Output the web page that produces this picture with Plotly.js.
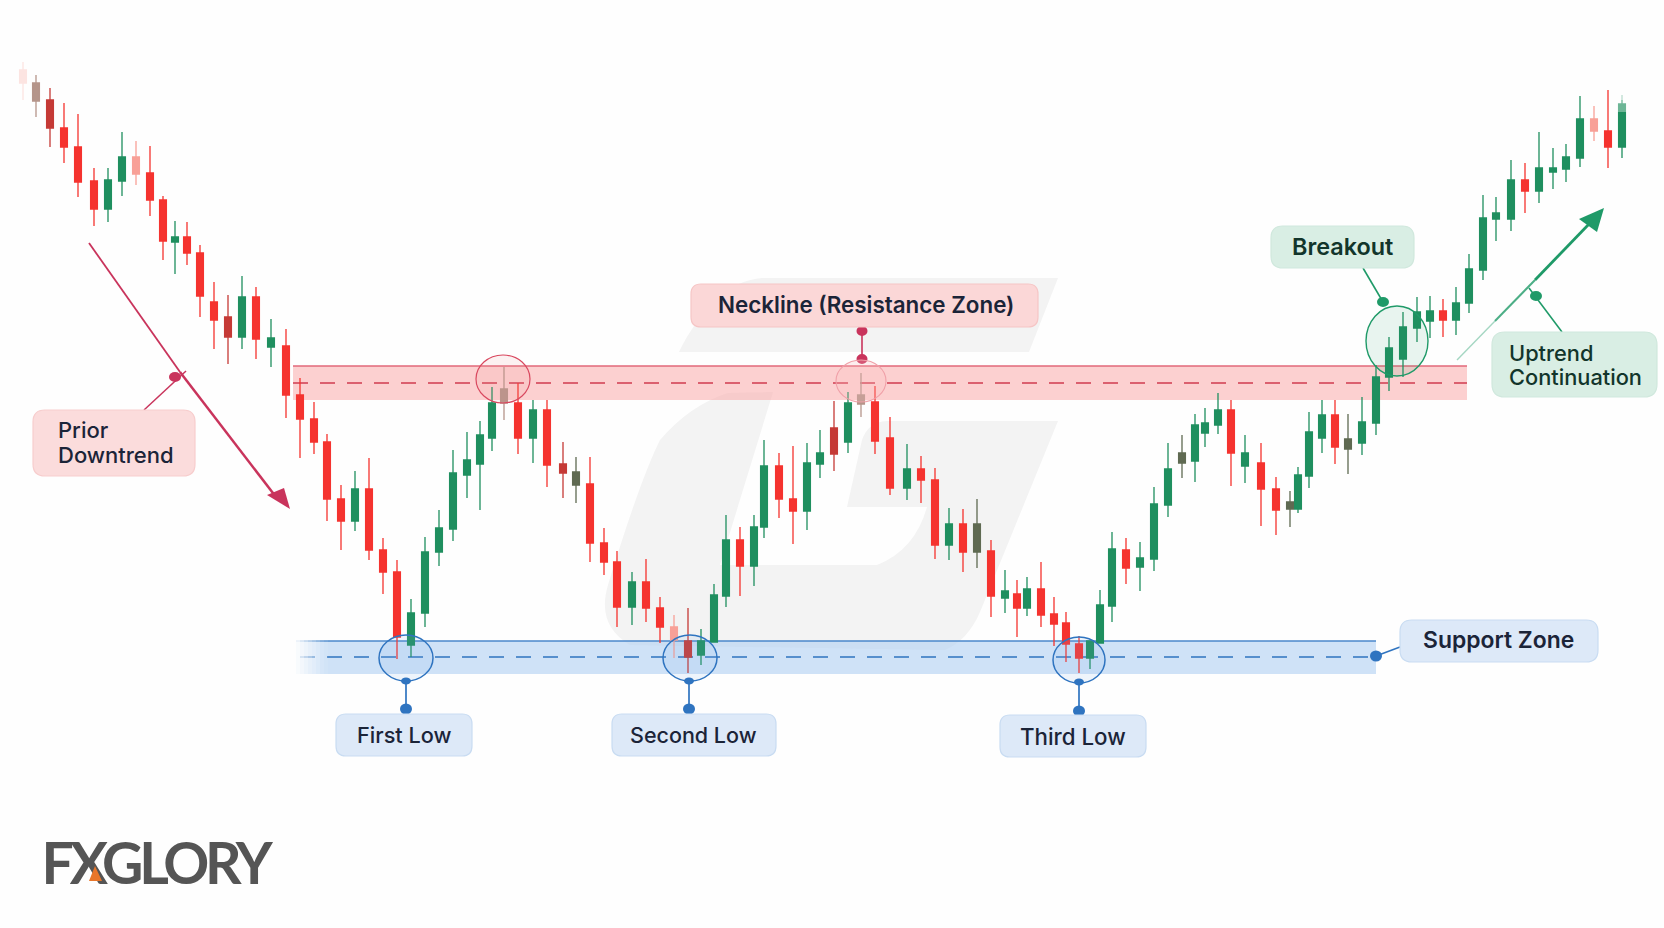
<!DOCTYPE html>
<html><head><meta charset="utf-8">
<script src="https://cdn.plot.ly/plotly-3.0.1.min.js"></script>
<style>html,body{margin:0;padding:0;background:#fefefe;overflow:hidden}#c{width:1664px;height:928px}</style>
</head><body><div id="c"></div>
<script>
const sessionX=[23,36,50,64,78,94,108,122,136,150,163,175,187,200,214,228,242,256,271,286,300,314,327,341,355,369,383,397,411,425,439,453,467,480,492,504,518,533,547,563,576,590,604,617,632,646,660,674,688,701,714,726,740,754,764,779,793,807,820,834,848,861,875,890,907,921,935,949,963,977,991,1005,1017,1027,1041,1054,1066,1079,1090,1100,1112,1126,1140,1154,1168,1182,1195,1205,1218,1231,1245,1261,1276,1290,1298,1309,1322,1335,1348,1362,1376,1389,1403,1417,1430,1443,1456,1469,1483,1496,1511,1525,1539,1553,1566,1580,1594,1608,1622];
const open=[858,845,828,800,781,747,719,747,771,755,728,686,691,675,626,611,591,631,581,582,533,509,486,429,407,439,378,356,283,315,376,399,453,464,490,525,525,490,518,464,443,444,385,366,321,346,320,301,287,273,286,332,388,362,401,462,429,417,464,500,486,524,526,490,440,459,448,383,404,376,377,330,334,320,339,314,305,284,270,285,322,378,361,369,423,475,467,495,503,518,462,465,439,426,419,452,490,513,489,485,505,551,569,600,607,617,608,625,658,709,709,748,737,756,759,770,809,797,781];
const high=[866,853,840,825,814,760,760,796,787,782,732,707,706,683,646,633,652,641,609,599,550,526,494,443,457,470,390,368,329,391,418,478,496,507,541,561,545,528,528,486,471,471,400,377,356,369,331,313,320,299,344,413,401,413,488,475,482,485,498,527,536,555,542,511,484,472,460,420,419,429,388,358,348,351,366,331,316,292,287,338,396,390,386,441,485,493,514,520,535,528,493,485,451,437,461,516,528,528,514,531,563,591,616,631,632,629,641,674,733,731,768,765,796,780,784,832,822,838,833];
const low=[828,811,781,765,731,702,706,732,743,712,668,654,663,611,579,564,579,569,561,510,470,474,407,378,397,368,334,269,271,301,362,387,430,418,477,508,474,465,441,430,425,366,353,301,303,306,285,270,255,263,286,321,332,342,390,410,384,398,450,457,475,511,474,433,428,425,369,368,356,360,311,315,291,312,301,282,266,255,259,285,306,344,337,357,411,450,446,481,494,442,445,402,393,401,415,440,475,464,454,473,493,537,551,586,590,591,593,615,648,687,697,715,725,739,746,761,787,760,770];
const close=[845,827,800,781,746,719,748,771,754,728,687,691,675,632,608,591,631,589,590,533,509,486,429,407,439,378,356,291,315,376,400,455,468,493,525,539,490,518,463,455,456,385,366,321,346,320,301,288,271,287,333,388,362,401,462,429,417,465,475,474,525,533,487,440,459,448,383,404,376,404,332,337,320,339,313,304,284,270,287,323,379,360,370,424,459,465,503,505,518,475,475,439,418,419,453,496,513,481,479,506,551,580,601,616,617,608,625,659,710,715,748,737,760,760,771,809,797,781,824];
const tone=['p','t','d','r','r','r','g','g','p','r','r','g','r','r','r','d','g','r','g','r','r','r','r','r','g','r','r','r','g','g','g','g','g','g','g','t','r','g','r','d','b','r','r','r','g','r','r','p','d','g','g','g','r','g','g','r','r','g','g','d','g','t','r','r','g','r','r','g','r','b','r','g','r','g','r','r','r','r','g','g','g','r','g','g','g','b','g','g','g','r','g','r','r','b','g','g','g','r','b','g','g','g','g','g','g','r','g','g','g','g','g','r','g','g','g','g','p','r','g'];
const toneColours={r:'#f5332f',g:'#1f8f5f',p:'#f8a097',t:'#b5958a',d:'#c53a36',b:'#5f6a52'};

const W=1664,H=928,Y=v=>H-v;
const traces=Object.keys(toneColours).map(k=>{
  const idx=tone.map((t,i)=>t===k?i:-1).filter(i=>i>=0), c=toneColours[k];
  const side={line:{color:c,width:1.3},fillcolor:c};
  return {type:'candlestick',name:k,x:idx.map(i=>sessionX[i]),open:idx.map(i=>open[i]),high:idx.map(i=>high[i]),low:idx.map(i=>low[i]),close:idx.map(i=>close[i]),
    increasing:side,decreasing:side,whiskerwidth:0,showlegend:false,hoverinfo:'skip'};
});

const RED='#c9345c',BLUE='#2f74c0',GREEN='#1f9a68',INK='#1b2438',DGREEN='#12352b';
const rr=(x0,y0,x1,y1,r,fill,line)=>({type:'path',layer:'above',fillcolor:fill,line:{color:line,width:1.2},
  path:`M${x0+r},${Y(y0)}L${x1-r},${Y(y0)}Q${x1},${Y(y0)} ${x1},${Y(y0+r)}L${x1},${Y(y1-r)}Q${x1},${Y(y1)} ${x1-r},${Y(y1)}L${x0+r},${Y(y1)}Q${x0},${Y(y1)} ${x0},${Y(y1-r)}L${x0},${Y(y0+r)}Q${x0},${Y(y0)} ${x0+r},${Y(y0)}Z`});
const ln=(x0,y0,x1,y1,c,w,extra)=>Object.assign({type:'line',layer:'above',x0,x1,y0:Y(y0),y1:Y(y1),line:{color:c,width:w}},extra||{});
const ell=(cx,cy,rx,ry,fill,c,w,layer)=>({type:'circle',layer:layer||'above',x0:cx-rx,x1:cx+rx,y0:Y(cy+ry),y1:Y(cy-ry),fillcolor:fill,line:{color:c,width:w}});
const rect=(x0,y0,x1,y1,fill,layer)=>({type:'rect',layer:layer||'below',x0,x1,y0:Y(y1),y1:Y(y0),fillcolor:fill,line:{width:0}});
const poly=(pts,fill,layer)=>({type:'path',layer:layer||'above',fillcolor:fill,line:{width:0},path:pts});
const p=(x,y)=>`${x},${Y(y)}`;
const fadeSteps=[0.88,0.76,0.64,0.52,0.4,0.28,0.16,0.08].map((o,i)=>rect(296+i*4,640,300+i*4,675,`rgba(254,254,254,${o})`));

const shapes=[
  // watermark
  poly(`M${p(679,352)}Q${p(695,318)} ${p(722,296)}Q${p(738,280)} ${p(762,278)}L${p(1058,278)}L${p(1029,352)}Z`,'#f3f3f3','below'),
  poly(`M${p(773,392)}L${p(728,393)}Q${p(690,405)} ${p(660,440)}Q${p(640,480)} ${p(608,585)}Q${p(596,625)} ${p(630,645)}L${p(945,650)}Q${p(968,640)} ${p(980,612)}L${p(1058,421)}L${p(887,421)}Q${p(868,422)} ${p(862,440)}L${p(847,507)}L${p(927,507)}Q${p(915,550)} ${p(877,565)}L${p(720,565)}Z`,'#f3f3f3','below'),
  // zones
  rect(293,366,1467,400,'rgba(250,170,170,0.55)'),
  ln(293,366,1467,366,'#e2687a',1.4,{layer:'below'}),
  ln(293,383,1467,383,'#cf3b4f',1.3,{layer:'below',line:{color:'#cf3b4f',width:1.3,dash:'15px,12px'}}),
  rect(296,641,1376,674,'rgba(178,208,242,0.62)'),
  ln(296,641,1376,641,'#4a87cb',1.4,{layer:'below'}),
  ln(300,657,1376,657,BLUE,1.3,{layer:'below',line:{color:BLUE,width:1.3,dash:'15px,12px'}}),
  ...fadeSteps,
  // downtrend arrow
  ln(89,243,180,372,RED,1.8),ln(180,372,276,497,RED,2.5),
  poly(`M${p(290,509)}L${p(284,488)}L${p(267,495)}Z`,RED),
  ln(144,410,186,371,RED,1.5),ell(175,377,6,5,RED,RED,0),
  rr(33,410,195,476,12,'#fbdcdc','#f7cdcd'),
  // neckline
  ln(862,333,862,359,RED,1.6),ell(862,331,5.5,5,RED,RED,0),ell(862,359,5.5,5,RED,RED,0),
  rr(691,284,1038,327,10,'#fbd7d7','#f6c6c6'),
  ell(503,379,27,24,'rgba(240,150,150,0.12)','#d9485f',1.2),
  ell(861,381,25,21,'rgba(250,190,190,0.25)','#f0a0a8',1.1),
  // lows
  ell(406,658,27,23,'rgba(120,170,230,0.12)',BLUE,1.5),
  ell(690,658,27,23,'rgba(120,170,230,0.12)',BLUE,1.5),
  ell(1079,660,26,23,'rgba(120,170,230,0.12)',BLUE,1.5),
  ln(406,681,406,709,BLUE,1.7),ell(406,681,5,3.5,BLUE,BLUE,0),ell(406,709,6,5.5,BLUE,BLUE,0),
  ln(689,681,689,709,BLUE,1.7),ell(689,681,5,3.5,BLUE,BLUE,0),ell(689,709,6,5.5,BLUE,BLUE,0),
  ln(1079,682,1079,711,BLUE,1.7),ell(1079,682,5,3.5,BLUE,BLUE,0),ell(1079,711,6,5.5,BLUE,BLUE,0),
  rr(336,714,472,756,10,'#dde9f8','#c9dcf2'),
  rr(612,714,776,756,10,'#dde9f8','#c9dcf2'),
  rr(1000,715,1146,757,10,'#dde9f8','#c9dcf2'),
  // support
  ln(1376,656,1400,647,BLUE,1.5),ell(1376,656,6,5.5,BLUE,BLUE,0),
  rr(1400,620,1598,662,12,'#dde9f8','#c9dcf2'),
  // breakout
  ell(1397,341,31,35,'rgba(40,160,110,0.10)',GREEN,1.4),
  ln(1363,268,1383,302,GREEN,1.6),ell(1383,302,6,5,GREEN,GREEN,0),
  rr(1271,226,1414,268,12,'#d9eee4','#d0e8dd'),
  // uptrend
  ln(1457,360,1495,321,'rgba(31,154,104,0.4)',1.4),ln(1495,321,1535,280,'rgba(31,154,104,0.8)',2),ln(1535,280,1590,223,GREEN,2.8),
  poly(`M${p(1604,208)}L${p(1579,219)}L${p(1597,232)}Z`,GREEN),
  ln(1562,332,1529,288,GREEN,1.6),ell(1536,296,6,5,GREEN,GREEN,0),
  rr(1492,332,1657,397,13,'#d9eee4','#d0e8dd'),
  // logo: wordmark drawn as a shape label so the accent can sit on top of it
  Object.assign(rect(40,836,270,886,'rgba(0,0,0,0)','above'),{label:{text:'FXGLORY',textposition:'middle center',font:{family:'Lato, sans-serif',size:57,color:'#555555',weight:700}}}),
  poly(`M${p(95,866)}L${p(102,881)}L${p(89,881)}Z`,'#e8762a'),
  // page fades
  rect(15,60,31,108,'rgba(254,254,254,0.72)','above'),
  rect(1617,88,1628,100,'rgba(254,254,254,0.7)','above'),rect(1617,100,1628,112,'rgba(254,254,254,0.35)','above'),
];

const label=(text,x,py,size,color,anchor,weight)=>({text,x,y:Y(py),xref:'x',yref:'y',showarrow:false,xanchor:anchor||'center',yanchor:'middle',align:anchor||'center',
  font:{family:'Inter, "Noto Sans", sans-serif',size,color,weight:weight||500}});
const annotations=[
  label('Prior',56,430,22,INK,'left'),label('Downtrend',56,455,22,INK,'left'),
  label('Neckline (Resistance Zone)',866,304,22.4,INK,'center',600),
  label('First Low',404,735,21.7,INK),label('Second Low',693,735,21.5,INK),label('Third Low',1073,736,22.3,INK),
  label('Support Zone',1498,640,22.9,INK,'center',600),
  label('Breakout',1342,246,23.4,DGREEN,'center',600),
  label('Uptrend',1507,353,21.8,DGREEN,'left'),label('Continuation',1507,377,21.8,DGREEN,'left'),
];

const layout={width:W,height:H,margin:{l:0,r:0,t:0,b:0},paper_bgcolor:'#fefefe',plot_bgcolor:'#fefefe',showlegend:false,boxgap:0.15,boxgroupgap:0,
  xaxis:{range:[0,W],visible:false,fixedrange:true,rangeslider:{visible:false}},
  yaxis:{range:[0,H],visible:false,fixedrange:true},shapes,annotations};
Plotly.newPlot('c',traces,layout,{staticPlot:true,displayModeBar:false}).then(gd=>{
  const t=[...gd.querySelectorAll('text')].find(e=>e.textContent==='FXGLORY');
  if(t) t.style.letterSpacing='-4.2px';
});
</script></body></html>
